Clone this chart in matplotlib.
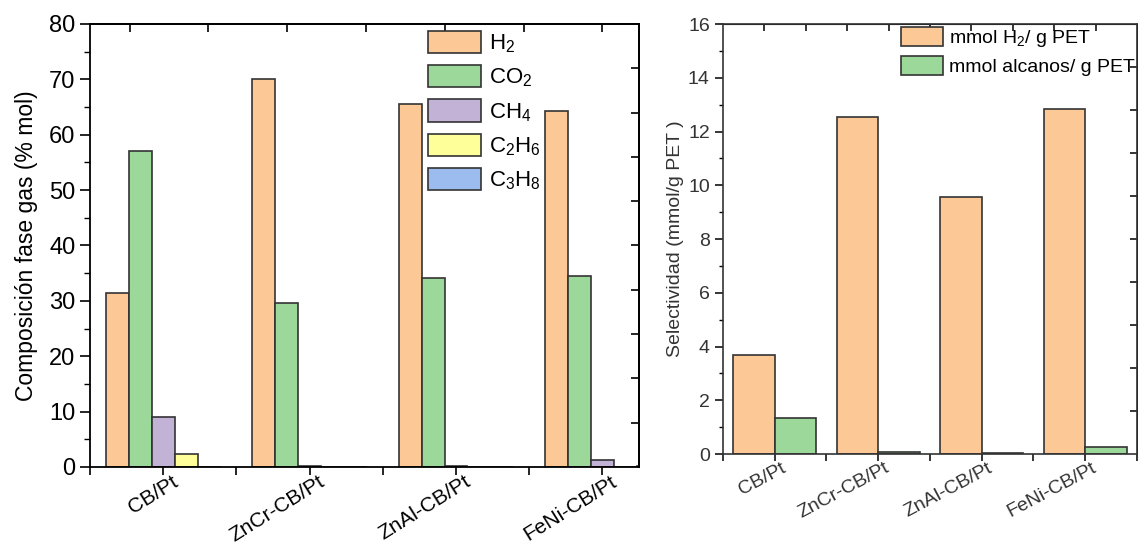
import numpy as np
import matplotlib
matplotlib.use("Agg")
import matplotlib.pyplot as plt
import matplotlib.transforms as mtransforms
from matplotlib.ticker import MultipleLocator

plt.rcParams['font.family'] = ['Liberation Sans', 'DejaVu Sans']
plt.rcParams['mathtext.fontset'] = 'custom'
plt.rcParams['mathtext.rm'] = 'Liberation Sans'
plt.rcParams['mathtext.default'] = 'regular'

# datos
catalizadores = ['CB/Pt', 'ZnCr-CB/Pt', 'ZnAl-CB/Pt', 'FeNi-CB/Pt']
gases = ['H$_2$', 'CO$_2$', 'CH$_4$', 'C$_2$H$_6$', 'C$_3$H$_8$']
h2 = [31.5, 70.0, 65.6, 64.2]
co2 = [57.0, 29.6, 34.1, 34.5]
ch4 = [9.0, 0.25, 0.2, 1.3]
c2h6 = [2.3, 0.0, 0.0, 0.0]
c3h8 = [0.0, 0.0, 0.0, 0.2]

sel_h2 = [3.68, 12.56, 9.55, 12.85]
sel_alcanos = [1.33, 0.09, 0.04, 0.26]
leyenda_sel = ['mmol H$_2$/ g PET', 'mmol alcanos/ g PET']

colores = ['#fcc896', '#9dd89b', '#c2b3d6', '#ffff99', '#9cbbef']
borde = '#333333'

fig = plt.figure(figsize=(11.38, 5.49), dpi=100)
ax1 = fig.add_axes([0.0791, 0.1494, 0.4824, 0.807])
ax2 = fig.add_axes([0.6353, 0.173, 0.3638, 0.783])

x = np.arange(1, len(catalizadores) + 1)


def desplazar_etiquetas(ax, dx, dy):
    off = mtransforms.ScaledTranslation(dx / 100, dy / 100, fig.dpi_scale_trans)
    for lab in ax.get_xticklabels():
        lab.set_transform(lab.get_transform() + off)


# panel izquierdo
series = [h2, co2, ch4, c2h6, c3h8]
w = 0.157
for i, (vals, nombre) in enumerate(zip(series, gases)):
    ax1.bar(x + (i - 2) * w, vals, w, color=colores[i], edgecolor=borde,
            linewidth=1.2, label=nombre)

ax1.set_xlim(0.5, 4.25)
ax1.set_ylim(0, 80)
ax1.set_xticks(x)
ax1.set_xticklabels(catalizadores, rotation=32, ha='right', va='center',
                    rotation_mode='anchor', fontsize=15)
ax1.xaxis.set_minor_locator(MultipleLocator(0.5))
ax1.yaxis.set_major_locator(MultipleLocator(10))
ax1.yaxis.set_minor_locator(MultipleLocator(5))
ax1.tick_params(axis='y', which='major', direction='out', length=7, width=1.2,
                labelsize=17, left=True, right=False)
ax1.tick_params(axis='y', which='minor', direction='out', length=4, width=1.0,
                right=False)
ax1.tick_params(axis='x', which='major', direction='out', length=6, width=1.2,
                top=False, pad=0)
ax1.tick_params(axis='x', which='minor', direction='out', length=6, width=1.2,
                top=False)
ax1.set_ylabel('Composición fase gas (% mol)', fontsize=16.5, labelpad=8)
desplazar_etiquetas(ax1, 13, -5)

# ejes secundarios (solo marcas)
top1 = ax1.secondary_xaxis('top')
top1.set_xticks(np.linspace(0.77, 4.0, 7))
top1.tick_params(direction='in', length=6, width=1.2, labeltop=False)
top1.set_xticklabels([])
der1 = ax1.secondary_yaxis('right')
der1.set_yticks(np.arange(8, 80, 8))
der1.tick_params(direction='in', length=6, width=1.2, labelright=False)
der1.set_yticklabels([])

for s in ax1.spines.values():
    s.set_linewidth(1.3)
top1.spines['top'].set_linewidth(1.3)
der1.spines['right'].set_linewidth(1.3)

ax1.legend(loc='upper left', bbox_to_anchor=(0.616, 0.985), frameon=False,
           fontsize=16, handlelength=2.36, handleheight=1.18,
           labelspacing=0.45, handletextpad=0.36, borderpad=0,
           borderaxespad=0)

# panel derecho
w2 = 0.4
ax2.bar(x - w2 / 2, sel_h2, w2, color=colores[0], edgecolor=borde,
        linewidth=1.2, label=leyenda_sel[0])
ax2.bar(x + w2 / 2, sel_alcanos, w2, color=colores[1], edgecolor=borde,
        linewidth=1.2, label=leyenda_sel[1])
ax2.set_xlim(0.5, 4.5)
ax2.set_ylim(0, 16)
ax2.set_xticks(x)
ax2.set_xticklabels(catalizadores, rotation=28, ha='right', va='center',
                    rotation_mode='anchor', fontsize=14, color='#333333')
ax2.xaxis.set_minor_locator(MultipleLocator(0.5))
ax2.yaxis.set_major_locator(MultipleLocator(2))
ax2.yaxis.set_minor_locator(MultipleLocator(1))
ax2.tick_params(axis='y', which='major', direction='out', length=6, width=1.1,
                labelsize=14, labelcolor='#333333', right=False)
ax2.tick_params(axis='y', which='minor', direction='out', length=3, width=1.0,
                right=False)
ax2.tick_params(axis='x', which='both', direction='out', length=5, width=1.1,
                top=False, pad=0)
ax2.set_ylabel('Selectividad (mmol/g PET )', fontsize=14, color='#333333',
               labelpad=3)
desplazar_etiquetas(ax2, 10, -6)

top2 = ax2.secondary_xaxis('top')
top2.set_xticks(np.arange(0.9, 4.11, 0.4))
top2.tick_params(direction='in', length=5, width=1.1, labeltop=False)
top2.set_xticklabels([])
der2 = ax2.secondary_yaxis('right')
der2.set_yticks(np.arange(1.6, 15.9, 1.6))
der2.tick_params(direction='in', length=5, width=1.1, labelright=False)
der2.set_yticklabels([])

for s in ax2.spines.values():
    s.set_linewidth(1.2)
    s.set_color('#333333')

ax2.legend(loc='upper left', bbox_to_anchor=(0.43, 0.993), frameon=False,
           fontsize=14, handlelength=2.16, handleheight=1.13,
           labelspacing=0.36, handletextpad=0.3, borderpad=0,
           borderaxespad=0)

fig.savefig('out.png', dpi=100)
